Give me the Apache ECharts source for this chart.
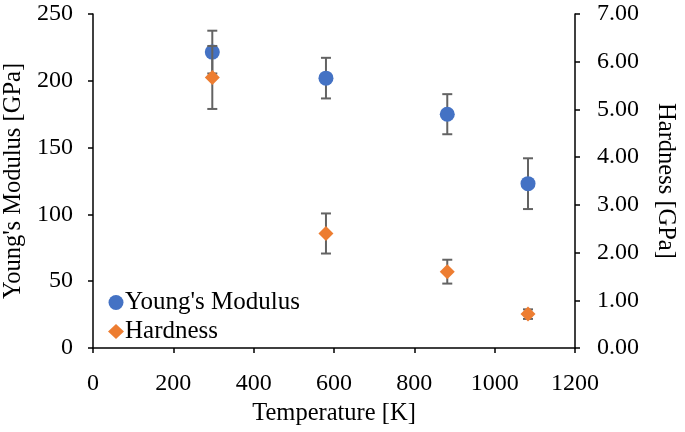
<!DOCTYPE html>
<html><head><meta charset="utf-8">
<script src="https://cdn.jsdelivr.net/npm/echarts@6/dist/echarts.min.js"></script>
<style>html,body{margin:0;padding:0;background:#fff}#c{width:685px;height:432px}</style>
</head><body><div id="c"></div>
<script>
const temperatures = [297, 580, 882, 1083];
const youngsModulus = [221.5, 202, 175, 123];
const youngsErr = [16, 15.2, 15, 19];
const hardness = [5.67, 2.40, 1.60, 0.71];
const hardnessErr = [0.66, 0.42, 0.25, 0.1];
const xTicks = [0, 200, 400, 600, 800, 1000, 1200];

const font = 'Liberation Serif';
const errColor = '#636363';

function errSeries(vals, errs, yIdx, z) {
  return {
    type: 'custom', yAxisIndex: yIdx, z: z, silent: true,
    data: temperatures.map((t, i) => [t, vals[i] - errs[i], vals[i] + errs[i]]),
    renderItem: function (params, api) {
      const lo = api.coord([api.value(0), api.value(1)]);
      const hi = api.coord([api.value(0), api.value(2)]);
      const w = 5;
      const st = { stroke: errColor, lineWidth: 2, fill: null };
      return { type: 'group', children: [
        { type: 'line', shape: { x1: lo[0], y1: lo[1], x2: hi[0], y2: hi[1] }, style: st },
        { type: 'line', shape: { x1: lo[0] - w, y1: lo[1], x2: lo[0] + w, y2: lo[1] }, style: st },
        { type: 'line', shape: { x1: hi[0] - w, y1: hi[1], x2: hi[0] + w, y2: hi[1] }, style: st }
      ]};
    }
  };
}

const axisCommon = {
  axisLine: { show: true, lineStyle: { color: '#000', width: 1.5 } },
  axisTick: { show: true, inside: false, length: 5, lineStyle: { color: '#000', width: 1.5 } },
  splitLine: { show: false },
  axisLabel: { color: '#000', fontFamily: font, fontSize: 24 },
  nameTextStyle: { color: '#000', fontFamily: font, fontSize: 24.5 }
};

const chart = echarts.init(document.getElementById('c'));
chart.setOption({
  animation: false,
  grid: { left: 93, right: 110, top: 14, bottom: 84, containLabel: false, outerBoundsMode: 'none' },
  legend: {
    left: 103, top: 285, orient: 'vertical', itemGap: 4, itemWidth: 16, itemHeight: 15,
    data: ["Young's Modulus", 'Hardness'],
    textStyle: { color: '#000', fontFamily: font, fontSize: 25, padding: [0,0,0,-4] }
  },
  xAxis: Object.assign({}, axisCommon, {
    type: 'value', min: 0, max: 1200, interval: 200,
    name: 'Temperature [K]', nameLocation: 'middle', nameGap: 52,
    axisLabel: Object.assign({}, axisCommon.axisLabel, { margin: 24, formatter: v => xTicks.includes(v) ? String(v) : '' })
  }),
  yAxis: [
    Object.assign({}, axisCommon, {
      type: 'value', min: 0, max: 250, interval: 50,
      name: "Young's Modulus [GPa]", nameLocation: 'middle', nameGap: 63,
      axisLabel: Object.assign({}, axisCommon.axisLabel, { margin: 20 })
    }),
    Object.assign({}, axisCommon, {
      type: 'value', min: 0, max: 7, interval: 1, position: 'right',
      name: 'Hardness [GPa]', nameLocation: 'middle', nameGap: 78, nameRotate: -90,
      nameTextStyle: { color: '#000', fontFamily: font, fontSize: 24.5, width: 300, overflow: 'none' },
      axisLabel: Object.assign({}, axisCommon.axisLabel, { margin: 22, formatter: v => v.toFixed(2) })
    })
  ],
  series: [
    errSeries(youngsModulus, youngsErr, 0, 2),
    { name: "Young's Modulus", type: 'scatter', yAxisIndex: 0, z: 3, symbol: 'circle', symbolSize: 15,
      itemStyle: { color: '#4472C4', opacity: 1 }, data: temperatures.map((t, i) => [t, youngsModulus[i]]) },
    errSeries(hardness, hardnessErr, 1, 4),
    { name: 'Hardness', type: 'scatter', yAxisIndex: 1, z: 5, symbol: 'diamond', symbolSize: 15,
      itemStyle: { color: '#ED7D31', opacity: 1 }, data: temperatures.map((t, i) => [t, hardness[i]]) }
  ]
});
</script></body></html>
